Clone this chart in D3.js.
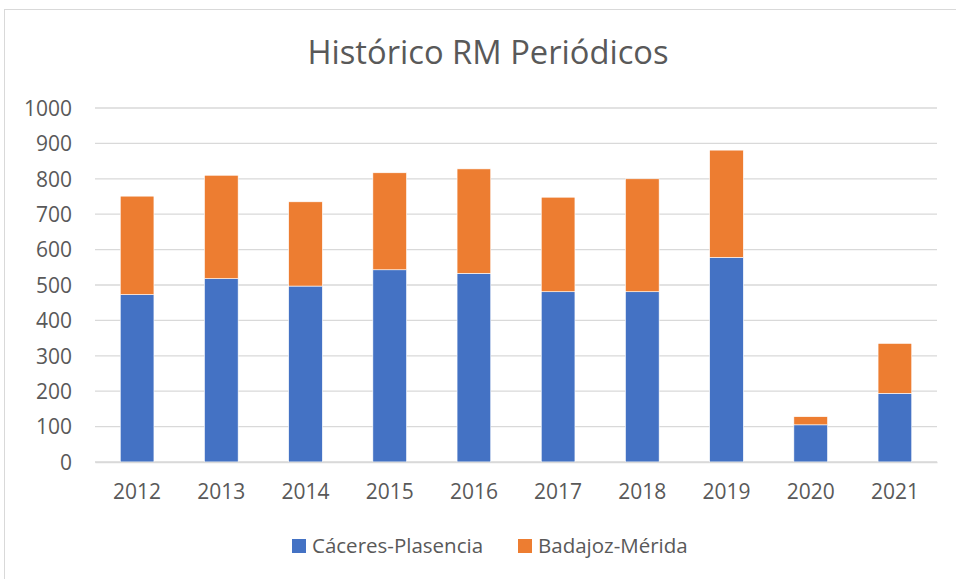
<!DOCTYPE html>
<html>
<head>
<meta charset="utf-8">
<script src="https://cdn.jsdelivr.net/npm/d3@7"></script>
<style>
  body { margin: 0; background: #fff; }
  svg text { font-family: "Open Sans", "Noto Sans", sans-serif; fill: #595959; }
</style>
</head>
<body>
<svg id="chart" width="956" height="579"></svg>
<script>
const years = ['2012', '2013', '2014', '2015', '2016', '2017', '2018', '2019', '2020', '2021'];
const caceres = [473, 518, 497, 543, 533, 481, 481, 578, 105, 194];
const badajoz = [278, 292, 238, 274, 295, 267, 319, 303, 23, 141];
const seriesNames = ['Cáceres-Plasencia', 'Badajoz-Mérida'];
const colors = ['#4472c4', '#ed7d31'];
const yTicks = [0, 100, 200, 300, 400, 500, 600, 700, 800, 900, 1000];

const svg = d3.select('#chart');

// chart frame
svg.append('rect')
  .attr('x', 4.5).attr('y', 9.5)
  .attr('width', 960).attr('height', 580)
  .attr('fill', 'none')
  .attr('stroke', '#d9d9d9');

const margin = {top: 108, left: 95, right: 19, bottom: 117};
const width = 956 - margin.left - margin.right;
const height = 579 - margin.top - margin.bottom;

const g = svg.append('g')
  .attr('transform', 'translate(' + margin.left + ',' + margin.top + ')');

const x = d3.scaleBand()
  .domain(years)
  .range([0, width])
  .paddingInner(0.6)
  .paddingOuter(0.3);

const y = d3.scaleLinear()
  .domain([0, 1000])
  .range([height, 0]);

// gridlines
g.append('g')
  .selectAll('line')
  .data(yTicks)
  .enter()
  .append('line')
  .attr('x1', 0).attr('x2', width)
  .attr('y1', d => y(d)).attr('y2', d => y(d))
  .attr('stroke', '#d9d9d9')
  .attr('stroke-width', 1.3);

// y axis labels
const yAxis = g.append('g')
  .call(d3.axisLeft(y).tickValues(yTicks).tickFormat(d3.format('d')).tickSize(0).tickPadding(23));
yAxis.select('.domain').remove();
yAxis.selectAll('text')
  .style('font-size', '21px')
  .attr('fill', '#595959')
  .attr('dy', '0.35em');

// stacked bars
const rows = years.map((yr, i) => ({year: yr, c: caceres[i], b: badajoz[i]}));
const stacked = d3.stack().keys(['c', 'b'])(rows);

g.append('g')
  .selectAll('g')
  .data(stacked)
  .enter()
  .append('g')
  .attr('fill', (d, i) => colors[i])
  .selectAll('rect')
  .data(d => d)
  .enter()
  .append('rect')
  .attr('x', d => x(d.data.year))
  .attr('width', x.bandwidth())
  .attr('y', d => y(d[1]))
  .attr('height', d => y(d[0]) - y(d[1]))
  .attr('stroke', '#fff')
  .attr('stroke-width', 0.6);

// x axis
const xAxis = g.append('g')
  .attr('transform', 'translate(0,' + height + ')')
  .call(d3.axisBottom(x).tickSize(0).tickPadding(22));
xAxis.select('.domain')
  .attr('stroke', '#d9d9d9')
  .attr('stroke-width', 1.3);
xAxis.selectAll('text')
  .style('font-size', '21px')
  .attr('fill', '#595959');

// title
svg.append('text')
  .attr('x', 488)
  .attr('y', 64)
  .attr('text-anchor', 'middle')
  .style('font-size', '32.7px')
  .text('Histórico RM Periódicos');

// legend
const legendX = [292, 518];
const legend = svg.append('g')
  .selectAll('g')
  .data(seriesNames)
  .enter()
  .append('g')
  .attr('transform', (d, i) => 'translate(' + legendX[i] + ',539)');
legend.append('rect')
  .attr('width', 14).attr('height', 14)
  .attr('fill', (d, i) => colors[i]);
legend.append('text')
  .attr('x', 20).attr('y', 14)
  .style('font-size', '20.5px')
  .text(d => d);
</script>
</body>
</html>
